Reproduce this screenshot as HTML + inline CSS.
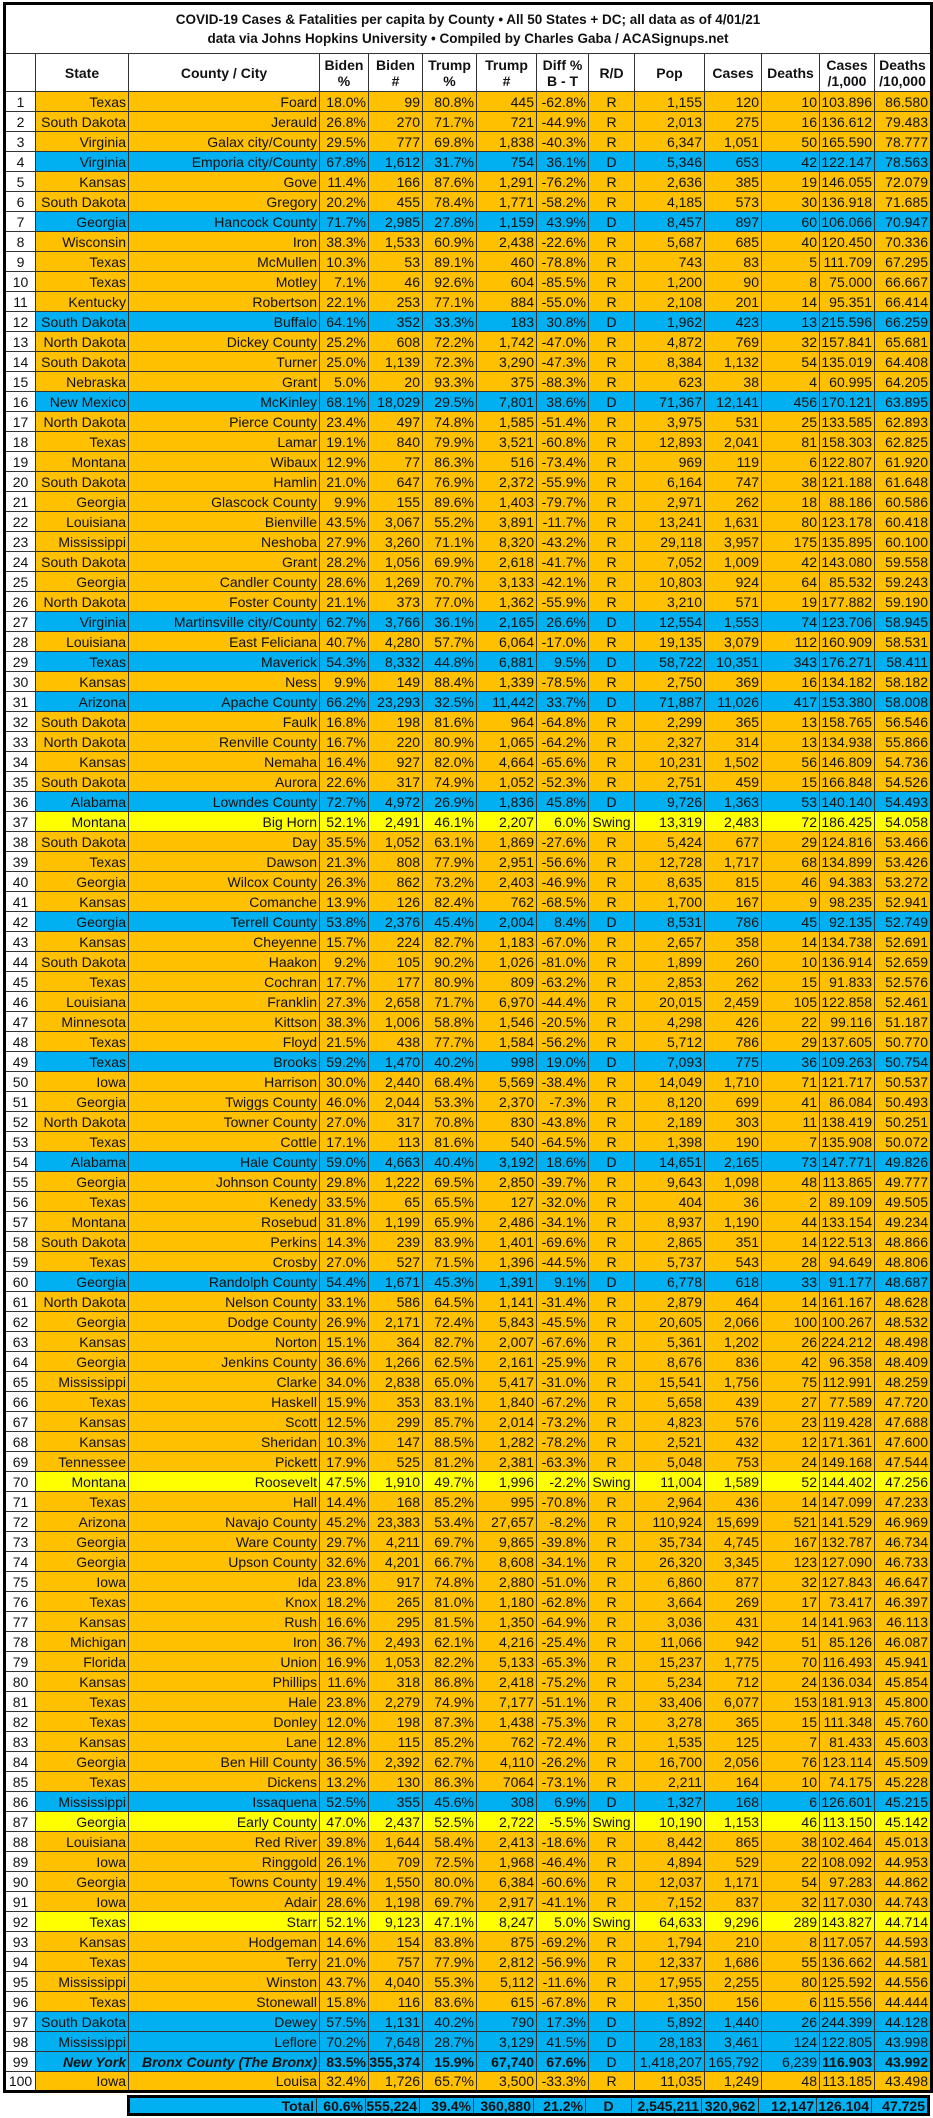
<!DOCTYPE html>
<html><head><meta charset="utf-8">
<style>
html,body{margin:0;padding:0;background:#fff;width:933px;height:2118px;overflow:hidden;font-family:"Liberation Sans",Arial,sans-serif;color:#111}
table{border-collapse:collapse;table-layout:fixed;position:absolute}
#m{left:3px;top:2px;width:927px;border:3px solid #000}
td{border:1px solid #333;padding:0 2px 0 0;font-size:14px;line-height:16px;text-align:right;white-space:nowrap;overflow:hidden}
tr{height:20px}
td:nth-child(1){background:#fff;text-align:center;padding:0}
td:nth-child(9){text-align:center;padding:0}
tr.r td{background:#FFC000}
tr.d td{background:#00B0F0}
tr.s td{background:#FFFF00}
tr.r td:first-child,tr.d td:first-child,tr.s td:first-child{background:#fff}
tr.t{height:50px}
tr.h{height:38px}
.t td{font-weight:bold;text-align:center;font-size:13.5px;line-height:19px;background:#fff}
.h td{font-weight:bold;text-align:center;font-size:14px;line-height:16px;background:#fff;padding:0;white-space:normal}
.bi td:nth-child(2),.bi td:nth-child(3){font-weight:bold;font-style:italic}
.bi td:nth-child(4),.bi td:nth-child(5),.bi td:nth-child(6),.bi td:nth-child(7),.bi td:nth-child(8),.bi td:nth-child(13),.bi td:nth-child(14){font-weight:bold}
#tot{left:127px;top:2095px;width:803px;border:3px solid #000}
#tot tr{height:18px}
#tot td{background:#00B0F0;font-weight:bold;line-height:14px}
#tot td:nth-child(1){background:#00B0F0;text-align:right;padding-right:2px}
#tot td:nth-child(7){text-align:center;padding:0}
</style></head><body>
<table id="m">
<colgroup><col style="width:31px"><col style="width:93px"><col style="width:191px"><col style="width:49px"><col style="width:54px"><col style="width:54px"><col style="width:60px"><col style="width:52px"><col style="width:46px"><col style="width:70px"><col style="width:57px"><col style="width:58px"><col style="width:55px"><col style="width:57px"></colgroup>
<tr class="t"><td colspan="14">COVID-19 Cases &amp; Fatalities per capita by County • All 50 States + DC; all data as of 4/01/21<br>data via Johns Hopkins University • Compiled by Charles Gaba / ACASignups.net</td></tr>
<tr class="h"><td></td><td>State</td><td>County / City</td><td>Biden<br>%</td><td>Biden<br>#</td><td>Trump<br>%</td><td>Trump<br>#</td><td>Diff %<br>B - T</td><td>R/D</td><td>Pop</td><td>Cases</td><td>Deaths</td><td>Cases<br>/1,000</td><td>Deaths<br>/10,000</td></tr>
<tr class="r"><td>1<td>Texas<td>Foard<td>18.0%<td>99<td>80.8%<td>445<td>-62.8%<td>R<td>1,155<td>120<td>10<td>103.896<td>86.580</tr>
<tr class="r"><td>2<td>South Dakota<td>Jerauld<td>26.8%<td>270<td>71.7%<td>721<td>-44.9%<td>R<td>2,013<td>275<td>16<td>136.612<td>79.483</tr>
<tr class="r"><td>3<td>Virginia<td>Galax city/County<td>29.5%<td>777<td>69.8%<td>1,838<td>-40.3%<td>R<td>6,347<td>1,051<td>50<td>165.590<td>78.777</tr>
<tr class="d"><td>4<td>Virginia<td>Emporia city/County<td>67.8%<td>1,612<td>31.7%<td>754<td>36.1%<td>D<td>5,346<td>653<td>42<td>122.147<td>78.563</tr>
<tr class="r"><td>5<td>Kansas<td>Gove<td>11.4%<td>166<td>87.6%<td>1,291<td>-76.2%<td>R<td>2,636<td>385<td>19<td>146.055<td>72.079</tr>
<tr class="r"><td>6<td>South Dakota<td>Gregory<td>20.2%<td>455<td>78.4%<td>1,771<td>-58.2%<td>R<td>4,185<td>573<td>30<td>136.918<td>71.685</tr>
<tr class="d"><td>7<td>Georgia<td>Hancock County<td>71.7%<td>2,985<td>27.8%<td>1,159<td>43.9%<td>D<td>8,457<td>897<td>60<td>106.066<td>70.947</tr>
<tr class="r"><td>8<td>Wisconsin<td>Iron<td>38.3%<td>1,533<td>60.9%<td>2,438<td>-22.6%<td>R<td>5,687<td>685<td>40<td>120.450<td>70.336</tr>
<tr class="r"><td>9<td>Texas<td>McMullen<td>10.3%<td>53<td>89.1%<td>460<td>-78.8%<td>R<td>743<td>83<td>5<td>111.709<td>67.295</tr>
<tr class="r"><td>10<td>Texas<td>Motley<td>7.1%<td>46<td>92.6%<td>604<td>-85.5%<td>R<td>1,200<td>90<td>8<td>75.000<td>66.667</tr>
<tr class="r"><td>11<td>Kentucky<td>Robertson<td>22.1%<td>253<td>77.1%<td>884<td>-55.0%<td>R<td>2,108<td>201<td>14<td>95.351<td>66.414</tr>
<tr class="d"><td>12<td>South Dakota<td>Buffalo<td>64.1%<td>352<td>33.3%<td>183<td>30.8%<td>D<td>1,962<td>423<td>13<td>215.596<td>66.259</tr>
<tr class="r"><td>13<td>North Dakota<td>Dickey County<td>25.2%<td>608<td>72.2%<td>1,742<td>-47.0%<td>R<td>4,872<td>769<td>32<td>157.841<td>65.681</tr>
<tr class="r"><td>14<td>South Dakota<td>Turner<td>25.0%<td>1,139<td>72.3%<td>3,290<td>-47.3%<td>R<td>8,384<td>1,132<td>54<td>135.019<td>64.408</tr>
<tr class="r"><td>15<td>Nebraska<td>Grant<td>5.0%<td>20<td>93.3%<td>375<td>-88.3%<td>R<td>623<td>38<td>4<td>60.995<td>64.205</tr>
<tr class="d"><td>16<td>New Mexico<td>McKinley<td>68.1%<td>18,029<td>29.5%<td>7,801<td>38.6%<td>D<td>71,367<td>12,141<td>456<td>170.121<td>63.895</tr>
<tr class="r"><td>17<td>North Dakota<td>Pierce County<td>23.4%<td>497<td>74.8%<td>1,585<td>-51.4%<td>R<td>3,975<td>531<td>25<td>133.585<td>62.893</tr>
<tr class="r"><td>18<td>Texas<td>Lamar<td>19.1%<td>840<td>79.9%<td>3,521<td>-60.8%<td>R<td>12,893<td>2,041<td>81<td>158.303<td>62.825</tr>
<tr class="r"><td>19<td>Montana<td>Wibaux<td>12.9%<td>77<td>86.3%<td>516<td>-73.4%<td>R<td>969<td>119<td>6<td>122.807<td>61.920</tr>
<tr class="r"><td>20<td>South Dakota<td>Hamlin<td>21.0%<td>647<td>76.9%<td>2,372<td>-55.9%<td>R<td>6,164<td>747<td>38<td>121.188<td>61.648</tr>
<tr class="r"><td>21<td>Georgia<td>Glascock County<td>9.9%<td>155<td>89.6%<td>1,403<td>-79.7%<td>R<td>2,971<td>262<td>18<td>88.186<td>60.586</tr>
<tr class="r"><td>22<td>Louisiana<td>Bienville<td>43.5%<td>3,067<td>55.2%<td>3,891<td>-11.7%<td>R<td>13,241<td>1,631<td>80<td>123.178<td>60.418</tr>
<tr class="r"><td>23<td>Mississippi<td>Neshoba<td>27.9%<td>3,260<td>71.1%<td>8,320<td>-43.2%<td>R<td>29,118<td>3,957<td>175<td>135.895<td>60.100</tr>
<tr class="r"><td>24<td>South Dakota<td>Grant<td>28.2%<td>1,056<td>69.9%<td>2,618<td>-41.7%<td>R<td>7,052<td>1,009<td>42<td>143.080<td>59.558</tr>
<tr class="r"><td>25<td>Georgia<td>Candler County<td>28.6%<td>1,269<td>70.7%<td>3,133<td>-42.1%<td>R<td>10,803<td>924<td>64<td>85.532<td>59.243</tr>
<tr class="r"><td>26<td>North Dakota<td>Foster County<td>21.1%<td>373<td>77.0%<td>1,362<td>-55.9%<td>R<td>3,210<td>571<td>19<td>177.882<td>59.190</tr>
<tr class="d"><td>27<td>Virginia<td>Martinsville city/County<td>62.7%<td>3,766<td>36.1%<td>2,165<td>26.6%<td>D<td>12,554<td>1,553<td>74<td>123.706<td>58.945</tr>
<tr class="r"><td>28<td>Louisiana<td>East Feliciana<td>40.7%<td>4,280<td>57.7%<td>6,064<td>-17.0%<td>R<td>19,135<td>3,079<td>112<td>160.909<td>58.531</tr>
<tr class="d"><td>29<td>Texas<td>Maverick<td>54.3%<td>8,332<td>44.8%<td>6,881<td>9.5%<td>D<td>58,722<td>10,351<td>343<td>176.271<td>58.411</tr>
<tr class="r"><td>30<td>Kansas<td>Ness<td>9.9%<td>149<td>88.4%<td>1,339<td>-78.5%<td>R<td>2,750<td>369<td>16<td>134.182<td>58.182</tr>
<tr class="d"><td>31<td>Arizona<td>Apache County<td>66.2%<td>23,293<td>32.5%<td>11,442<td>33.7%<td>D<td>71,887<td>11,026<td>417<td>153.380<td>58.008</tr>
<tr class="r"><td>32<td>South Dakota<td>Faulk<td>16.8%<td>198<td>81.6%<td>964<td>-64.8%<td>R<td>2,299<td>365<td>13<td>158.765<td>56.546</tr>
<tr class="r"><td>33<td>North Dakota<td>Renville County<td>16.7%<td>220<td>80.9%<td>1,065<td>-64.2%<td>R<td>2,327<td>314<td>13<td>134.938<td>55.866</tr>
<tr class="r"><td>34<td>Kansas<td>Nemaha<td>16.4%<td>927<td>82.0%<td>4,664<td>-65.6%<td>R<td>10,231<td>1,502<td>56<td>146.809<td>54.736</tr>
<tr class="r"><td>35<td>South Dakota<td>Aurora<td>22.6%<td>317<td>74.9%<td>1,052<td>-52.3%<td>R<td>2,751<td>459<td>15<td>166.848<td>54.526</tr>
<tr class="d"><td>36<td>Alabama<td>Lowndes County<td>72.7%<td>4,972<td>26.9%<td>1,836<td>45.8%<td>D<td>9,726<td>1,363<td>53<td>140.140<td>54.493</tr>
<tr class="s"><td>37<td>Montana<td>Big Horn<td>52.1%<td>2,491<td>46.1%<td>2,207<td>6.0%<td>Swing<td>13,319<td>2,483<td>72<td>186.425<td>54.058</tr>
<tr class="r"><td>38<td>South Dakota<td>Day<td>35.5%<td>1,052<td>63.1%<td>1,869<td>-27.6%<td>R<td>5,424<td>677<td>29<td>124.816<td>53.466</tr>
<tr class="r"><td>39<td>Texas<td>Dawson<td>21.3%<td>808<td>77.9%<td>2,951<td>-56.6%<td>R<td>12,728<td>1,717<td>68<td>134.899<td>53.426</tr>
<tr class="r"><td>40<td>Georgia<td>Wilcox County<td>26.3%<td>862<td>73.2%<td>2,403<td>-46.9%<td>R<td>8,635<td>815<td>46<td>94.383<td>53.272</tr>
<tr class="r"><td>41<td>Kansas<td>Comanche<td>13.9%<td>126<td>82.4%<td>762<td>-68.5%<td>R<td>1,700<td>167<td>9<td>98.235<td>52.941</tr>
<tr class="d"><td>42<td>Georgia<td>Terrell County<td>53.8%<td>2,376<td>45.4%<td>2,004<td>8.4%<td>D<td>8,531<td>786<td>45<td>92.135<td>52.749</tr>
<tr class="r"><td>43<td>Kansas<td>Cheyenne<td>15.7%<td>224<td>82.7%<td>1,183<td>-67.0%<td>R<td>2,657<td>358<td>14<td>134.738<td>52.691</tr>
<tr class="r"><td>44<td>South Dakota<td>Haakon<td>9.2%<td>105<td>90.2%<td>1,026<td>-81.0%<td>R<td>1,899<td>260<td>10<td>136.914<td>52.659</tr>
<tr class="r"><td>45<td>Texas<td>Cochran<td>17.7%<td>177<td>80.9%<td>809<td>-63.2%<td>R<td>2,853<td>262<td>15<td>91.833<td>52.576</tr>
<tr class="r"><td>46<td>Louisiana<td>Franklin<td>27.3%<td>2,658<td>71.7%<td>6,970<td>-44.4%<td>R<td>20,015<td>2,459<td>105<td>122.858<td>52.461</tr>
<tr class="r"><td>47<td>Minnesota<td>Kittson<td>38.3%<td>1,006<td>58.8%<td>1,546<td>-20.5%<td>R<td>4,298<td>426<td>22<td>99.116<td>51.187</tr>
<tr class="r"><td>48<td>Texas<td>Floyd<td>21.5%<td>438<td>77.7%<td>1,584<td>-56.2%<td>R<td>5,712<td>786<td>29<td>137.605<td>50.770</tr>
<tr class="d"><td>49<td>Texas<td>Brooks<td>59.2%<td>1,470<td>40.2%<td>998<td>19.0%<td>D<td>7,093<td>775<td>36<td>109.263<td>50.754</tr>
<tr class="r"><td>50<td>Iowa<td>Harrison<td>30.0%<td>2,440<td>68.4%<td>5,569<td>-38.4%<td>R<td>14,049<td>1,710<td>71<td>121.717<td>50.537</tr>
<tr class="r"><td>51<td>Georgia<td>Twiggs County<td>46.0%<td>2,044<td>53.3%<td>2,370<td>-7.3%<td>R<td>8,120<td>699<td>41<td>86.084<td>50.493</tr>
<tr class="r"><td>52<td>North Dakota<td>Towner County<td>27.0%<td>317<td>70.8%<td>830<td>-43.8%<td>R<td>2,189<td>303<td>11<td>138.419<td>50.251</tr>
<tr class="r"><td>53<td>Texas<td>Cottle<td>17.1%<td>113<td>81.6%<td>540<td>-64.5%<td>R<td>1,398<td>190<td>7<td>135.908<td>50.072</tr>
<tr class="d"><td>54<td>Alabama<td>Hale County<td>59.0%<td>4,663<td>40.4%<td>3,192<td>18.6%<td>D<td>14,651<td>2,165<td>73<td>147.771<td>49.826</tr>
<tr class="r"><td>55<td>Georgia<td>Johnson County<td>29.8%<td>1,222<td>69.5%<td>2,850<td>-39.7%<td>R<td>9,643<td>1,098<td>48<td>113.865<td>49.777</tr>
<tr class="r"><td>56<td>Texas<td>Kenedy<td>33.5%<td>65<td>65.5%<td>127<td>-32.0%<td>R<td>404<td>36<td>2<td>89.109<td>49.505</tr>
<tr class="r"><td>57<td>Montana<td>Rosebud<td>31.8%<td>1,199<td>65.9%<td>2,486<td>-34.1%<td>R<td>8,937<td>1,190<td>44<td>133.154<td>49.234</tr>
<tr class="r"><td>58<td>South Dakota<td>Perkins<td>14.3%<td>239<td>83.9%<td>1,401<td>-69.6%<td>R<td>2,865<td>351<td>14<td>122.513<td>48.866</tr>
<tr class="r"><td>59<td>Texas<td>Crosby<td>27.0%<td>527<td>71.5%<td>1,396<td>-44.5%<td>R<td>5,737<td>543<td>28<td>94.649<td>48.806</tr>
<tr class="d"><td>60<td>Georgia<td>Randolph County<td>54.4%<td>1,671<td>45.3%<td>1,391<td>9.1%<td>D<td>6,778<td>618<td>33<td>91.177<td>48.687</tr>
<tr class="r"><td>61<td>North Dakota<td>Nelson County<td>33.1%<td>586<td>64.5%<td>1,141<td>-31.4%<td>R<td>2,879<td>464<td>14<td>161.167<td>48.628</tr>
<tr class="r"><td>62<td>Georgia<td>Dodge County<td>26.9%<td>2,171<td>72.4%<td>5,843<td>-45.5%<td>R<td>20,605<td>2,066<td>100<td>100.267<td>48.532</tr>
<tr class="r"><td>63<td>Kansas<td>Norton<td>15.1%<td>364<td>82.7%<td>2,007<td>-67.6%<td>R<td>5,361<td>1,202<td>26<td>224.212<td>48.498</tr>
<tr class="r"><td>64<td>Georgia<td>Jenkins County<td>36.6%<td>1,266<td>62.5%<td>2,161<td>-25.9%<td>R<td>8,676<td>836<td>42<td>96.358<td>48.409</tr>
<tr class="r"><td>65<td>Mississippi<td>Clarke<td>34.0%<td>2,838<td>65.0%<td>5,417<td>-31.0%<td>R<td>15,541<td>1,756<td>75<td>112.991<td>48.259</tr>
<tr class="r"><td>66<td>Texas<td>Haskell<td>15.9%<td>353<td>83.1%<td>1,840<td>-67.2%<td>R<td>5,658<td>439<td>27<td>77.589<td>47.720</tr>
<tr class="r"><td>67<td>Kansas<td>Scott<td>12.5%<td>299<td>85.7%<td>2,014<td>-73.2%<td>R<td>4,823<td>576<td>23<td>119.428<td>47.688</tr>
<tr class="r"><td>68<td>Kansas<td>Sheridan<td>10.3%<td>147<td>88.5%<td>1,282<td>-78.2%<td>R<td>2,521<td>432<td>12<td>171.361<td>47.600</tr>
<tr class="r"><td>69<td>Tennessee<td>Pickett<td>17.9%<td>525<td>81.2%<td>2,381<td>-63.3%<td>R<td>5,048<td>753<td>24<td>149.168<td>47.544</tr>
<tr class="s"><td>70<td>Montana<td>Roosevelt<td>47.5%<td>1,910<td>49.7%<td>1,996<td>-2.2%<td>Swing<td>11,004<td>1,589<td>52<td>144.402<td>47.256</tr>
<tr class="r"><td>71<td>Texas<td>Hall<td>14.4%<td>168<td>85.2%<td>995<td>-70.8%<td>R<td>2,964<td>436<td>14<td>147.099<td>47.233</tr>
<tr class="r"><td>72<td>Arizona<td>Navajo County<td>45.2%<td>23,383<td>53.4%<td>27,657<td>-8.2%<td>R<td>110,924<td>15,699<td>521<td>141.529<td>46.969</tr>
<tr class="r"><td>73<td>Georgia<td>Ware County<td>29.7%<td>4,211<td>69.7%<td>9,865<td>-39.8%<td>R<td>35,734<td>4,745<td>167<td>132.787<td>46.734</tr>
<tr class="r"><td>74<td>Georgia<td>Upson County<td>32.6%<td>4,201<td>66.7%<td>8,608<td>-34.1%<td>R<td>26,320<td>3,345<td>123<td>127.090<td>46.733</tr>
<tr class="r"><td>75<td>Iowa<td>Ida<td>23.8%<td>917<td>74.8%<td>2,880<td>-51.0%<td>R<td>6,860<td>877<td>32<td>127.843<td>46.647</tr>
<tr class="r"><td>76<td>Texas<td>Knox<td>18.2%<td>265<td>81.0%<td>1,180<td>-62.8%<td>R<td>3,664<td>269<td>17<td>73.417<td>46.397</tr>
<tr class="r"><td>77<td>Kansas<td>Rush<td>16.6%<td>295<td>81.5%<td>1,350<td>-64.9%<td>R<td>3,036<td>431<td>14<td>141.963<td>46.113</tr>
<tr class="r"><td>78<td>Michigan<td>Iron<td>36.7%<td>2,493<td>62.1%<td>4,216<td>-25.4%<td>R<td>11,066<td>942<td>51<td>85.126<td>46.087</tr>
<tr class="r"><td>79<td>Florida<td>Union<td>16.9%<td>1,053<td>82.2%<td>5,133<td>-65.3%<td>R<td>15,237<td>1,775<td>70<td>116.493<td>45.941</tr>
<tr class="r"><td>80<td>Kansas<td>Phillips<td>11.6%<td>318<td>86.8%<td>2,418<td>-75.2%<td>R<td>5,234<td>712<td>24<td>136.034<td>45.854</tr>
<tr class="r"><td>81<td>Texas<td>Hale<td>23.8%<td>2,279<td>74.9%<td>7,177<td>-51.1%<td>R<td>33,406<td>6,077<td>153<td>181.913<td>45.800</tr>
<tr class="r"><td>82<td>Texas<td>Donley<td>12.0%<td>198<td>87.3%<td>1,438<td>-75.3%<td>R<td>3,278<td>365<td>15<td>111.348<td>45.760</tr>
<tr class="r"><td>83<td>Kansas<td>Lane<td>12.8%<td>115<td>85.2%<td>762<td>-72.4%<td>R<td>1,535<td>125<td>7<td>81.433<td>45.603</tr>
<tr class="r"><td>84<td>Georgia<td>Ben Hill County<td>36.5%<td>2,392<td>62.7%<td>4,110<td>-26.2%<td>R<td>16,700<td>2,056<td>76<td>123.114<td>45.509</tr>
<tr class="r"><td>85<td>Texas<td>Dickens<td>13.2%<td>130<td>86.3%<td>7064<td>-73.1%<td>R<td>2,211<td>164<td>10<td>74.175<td>45.228</tr>
<tr class="d"><td>86<td>Mississippi<td>Issaquena<td>52.5%<td>355<td>45.6%<td>308<td>6.9%<td>D<td>1,327<td>168<td>6<td>126.601<td>45.215</tr>
<tr class="s"><td>87<td>Georgia<td>Early County<td>47.0%<td>2,437<td>52.5%<td>2,722<td>-5.5%<td>Swing<td>10,190<td>1,153<td>46<td>113.150<td>45.142</tr>
<tr class="r"><td>88<td>Louisiana<td>Red River<td>39.8%<td>1,644<td>58.4%<td>2,413<td>-18.6%<td>R<td>8,442<td>865<td>38<td>102.464<td>45.013</tr>
<tr class="r"><td>89<td>Iowa<td>Ringgold<td>26.1%<td>709<td>72.5%<td>1,968<td>-46.4%<td>R<td>4,894<td>529<td>22<td>108.092<td>44.953</tr>
<tr class="r"><td>90<td>Georgia<td>Towns County<td>19.4%<td>1,550<td>80.0%<td>6,384<td>-60.6%<td>R<td>12,037<td>1,171<td>54<td>97.283<td>44.862</tr>
<tr class="r"><td>91<td>Iowa<td>Adair<td>28.6%<td>1,198<td>69.7%<td>2,917<td>-41.1%<td>R<td>7,152<td>837<td>32<td>117.030<td>44.743</tr>
<tr class="s"><td>92<td>Texas<td>Starr<td>52.1%<td>9,123<td>47.1%<td>8,247<td>5.0%<td>Swing<td>64,633<td>9,296<td>289<td>143.827<td>44.714</tr>
<tr class="r"><td>93<td>Kansas<td>Hodgeman<td>14.6%<td>154<td>83.8%<td>875<td>-69.2%<td>R<td>1,794<td>210<td>8<td>117.057<td>44.593</tr>
<tr class="r"><td>94<td>Texas<td>Terry<td>21.0%<td>757<td>77.9%<td>2,812<td>-56.9%<td>R<td>12,337<td>1,686<td>55<td>136.662<td>44.581</tr>
<tr class="r"><td>95<td>Mississippi<td>Winston<td>43.7%<td>4,040<td>55.3%<td>5,112<td>-11.6%<td>R<td>17,955<td>2,255<td>80<td>125.592<td>44.556</tr>
<tr class="r"><td>96<td>Texas<td>Stonewall<td>15.8%<td>116<td>83.6%<td>615<td>-67.8%<td>R<td>1,350<td>156<td>6<td>115.556<td>44.444</tr>
<tr class="d"><td>97<td>South Dakota<td>Dewey<td>57.5%<td>1,131<td>40.2%<td>790<td>17.3%<td>D<td>5,892<td>1,440<td>26<td>244.399<td>44.128</tr>
<tr class="d"><td>98<td>Mississippi<td>Leflore<td>70.2%<td>7,648<td>28.7%<td>3,129<td>41.5%<td>D<td>28,183<td>3,461<td>124<td>122.805<td>43.998</tr>
<tr class="d bi"><td>99<td>New York<td>Bronx County (The Bronx)<td>83.5%<td>355,374<td>15.9%<td>67,740<td>67.6%<td>D<td>1,418,207<td>165,792<td>6,239<td>116.903<td>43.992</tr>
<tr class="r"><td>100<td>Iowa<td>Louisa<td>32.4%<td>1,726<td>65.7%<td>3,500<td>-33.3%<td>R<td>11,035<td>1,249<td>48<td>113.185<td>43.498</tr>
</table>
<table id="tot">
<colgroup><col style="width:188px"><col style="width:49px"><col style="width:54px"><col style="width:54px"><col style="width:60px"><col style="width:52px"><col style="width:46px"><col style="width:70px"><col style="width:57px"><col style="width:58px"><col style="width:55px"><col style="width:57px"></colgroup>
<tr><td>Total<td>60.6%<td>555,224<td>39.4%<td>360,880<td>21.2%<td>D<td>2,545,211<td>320,962<td>12,147<td>126.104<td>47.725</tr>
</table>
</body></html>
